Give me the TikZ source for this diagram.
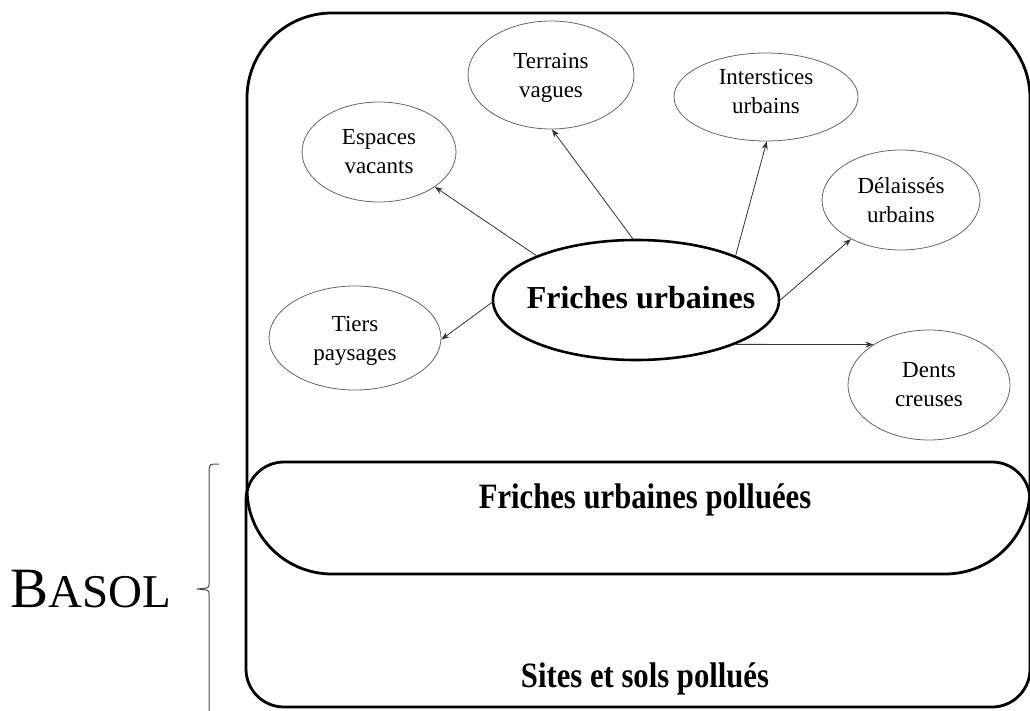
\documentclass[tikz,border=0pt]{standalone}
\usepackage{fontspec}
\setmainfont{Liberation Serif}
\usetikzlibrary{shapes.geometric,arrows.meta}
\begin{document}
\begin{tikzpicture}[x=1pt,y=-1pt,
  bubble/.style={ellipse,draw=black!60,line width=0.8pt,inner sep=0pt,align=center,font=\fontsize{23}{29}\selectfont},
  hub/.style={ellipse,draw=black,line width=2.6pt,inner sep=0pt},
  link/.style={draw=black!80,line width=0.8pt,-{Stealth[length=8pt,width=6pt]}},
  zone/.style={draw=black,line width=2.8pt},
  title/.style={font=\fontsize{31}{36}\selectfont\bfseries,inner sep=0pt,anchor=base},
  bracket/.style={draw=black!70,line width=1pt}]
\useasboundingbox (0,0) rectangle (1030,711);

% zones
\draw[zone,rounded corners=85pt] (247,13) rectangle (1030,574);
\draw[zone,rounded corners=38pt] (246,462) rectangle (1030,707);

% central ellipse
\node[hub,minimum width=286pt,minimum height=120pt] (fu) at (636,300)
  {\makebox[0pt]{\hspace*{10pt}\raisebox{6pt}{\fontsize{32}{36}\selectfont\bfseries Friches urbaines}}};

% surrounding ellipses
\node[bubble,minimum width=154pt,minimum height=100pt] (ev) at (379,152) {Espaces\\vacants};
\node[bubble,minimum width=172pt,minimum height=104pt,text depth=0pt] (tp) at (355,338) {Tiers\\paysages};
\node[bubble,minimum width=166pt,minimum height=108pt,text depth=0pt] (tv) at (551,75) {Terrains\\vagues};
\node[bubble,minimum width=184pt,minimum height=88pt,text depth=12pt] (iu) at (766,97) {Interstices\\urbains};
\node[bubble,minimum width=158pt,minimum height=100pt] (du) at (901,200) {Délaissés\\urbains};
\node[bubble,minimum width=162pt,minimum height=110pt] (dc) at (929,385) {Dents\\creuses};

% connectors
\draw[link] (fu.156) -- (ev.-32);
\draw[link] (fu.181) -- (tp.-1);
\draw[link] (fu.93) -- (tv.-89);
\draw[link] (fu.24) -- (iu.-89);
\draw[link] (fu.0) -- (du.-142);
\draw[link] (fu.-24) -- (dc.144);

% zone titles
\node[title] (fup) at (645,508) {\scalebox{0.99}[1.15]{Friches urbaines polluées}};
\node[title] (ssp) at (645,687) {\scalebox{0.99}[1.15]{Sites et sols pollués}};

% BASOL with brace
\node[anchor=base west,inner sep=0pt] (basol) at (10,607)
  {\fontsize{57}{57}\selectfont B\fontsize{47}{47}\selectfont ASOL};
\draw[bracket] (219,464) .. controls (210,464) .. (209,469) -- (209,584)
  .. controls (209,588) .. (197,589) .. controls (209,590) .. (209,594) -- (209,712);
\end{tikzpicture}
\end{document}
